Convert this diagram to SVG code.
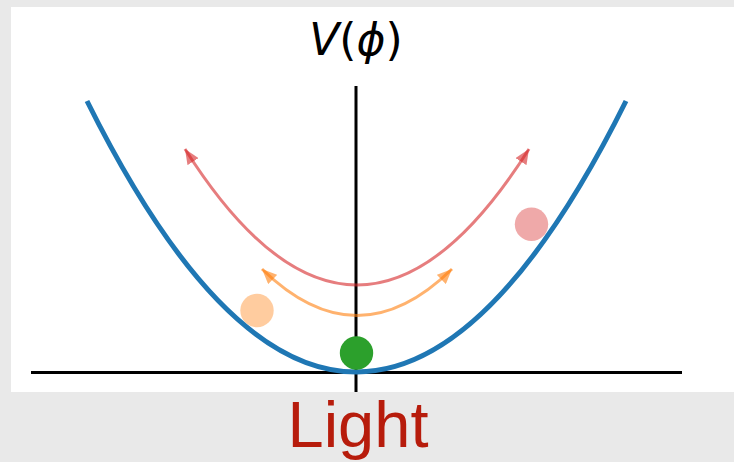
<svg xmlns="http://www.w3.org/2000/svg" width="734" height="462" viewBox="0 0 734 462">
  <style>
    .axis { stroke: #000; stroke-width: 3; fill: none; }
    .well { stroke: #1f77b4; stroke-width: 5; fill: none; stroke-linecap: butt; }
    .arc-red { stroke: #d62728; stroke-opacity: 0.6; stroke-width: 3; fill: none; }
    .arc-orange { stroke: #ff7f0e; stroke-opacity: 0.6; stroke-width: 3; fill: none; }
  </style>
  <defs>
    <marker id="headRed" viewBox="0 0 15 13" refX="15" refY="6.5" markerWidth="15" markerHeight="13" markerUnits="userSpaceOnUse" orient="auto-start-reverse">
      <path d="M0,0 L15,6.5 L0,13 Z" fill="#d62728" fill-opacity="0.6"/>
    </marker>
    <marker id="headOrange" viewBox="0 0 15 13" refX="15" refY="6.5" markerWidth="15" markerHeight="13" markerUnits="userSpaceOnUse" orient="auto-start-reverse">
      <path d="M0,0 L15,6.5 L0,13 Z" fill="#ff7f0e" fill-opacity="0.6"/>
    </marker>
  </defs>
  <rect x="0" y="0" width="734" height="462" fill="#e9e9e9"/>
  <rect x="11" y="7" width="723" height="385" fill="#ffffff"/>

  <g id="axes">
    <line class="axis" x1="31" y1="372.5" x2="682" y2="372.5"/>
    <line class="axis" x1="356" y1="86" x2="356" y2="392"/>
  </g>

  <g id="potential">
    <path class="well" d="M87,101 Q356.5,643 626,101"/>
  </g>

  <g id="connectors">
    <path class="arc-red" d="M185,149 Q357,421 529,149" marker-start="url(#headRed)" marker-end="url(#headRed)"/>
    <path class="arc-orange" d="M262,269 Q357,362 452,269" marker-start="url(#headOrange)" marker-end="url(#headOrange)"/>
  </g>

  <g id="ball-green">
    <circle cx="356.5" cy="353" r="16.7" fill="#2ca02c"/>
  </g>
  <g id="ball-orange">
    <circle cx="257" cy="310.5" r="16.7" fill="#ff7f0e" fill-opacity="0.4"/>
  </g>
  <g id="ball-red">
    <circle cx="531.5" cy="224.3" r="16.7" fill="#d62728" fill-opacity="0.4"/>
  </g>

  <g id="label-v">
    <text x="356" y="55" text-anchor="middle" font-family="DejaVu Sans, sans-serif" font-size="44" fill="#000"><tspan font-style="italic">V</tspan>(<tspan font-style="italic">ϕ</tspan>)</text>
  </g>

  <g id="label-light">
    <text x="358" y="447" text-anchor="middle" font-family="Liberation Sans, Arial, sans-serif" font-size="65" fill="#b71c0c">Light</text>
  </g>
</svg>
